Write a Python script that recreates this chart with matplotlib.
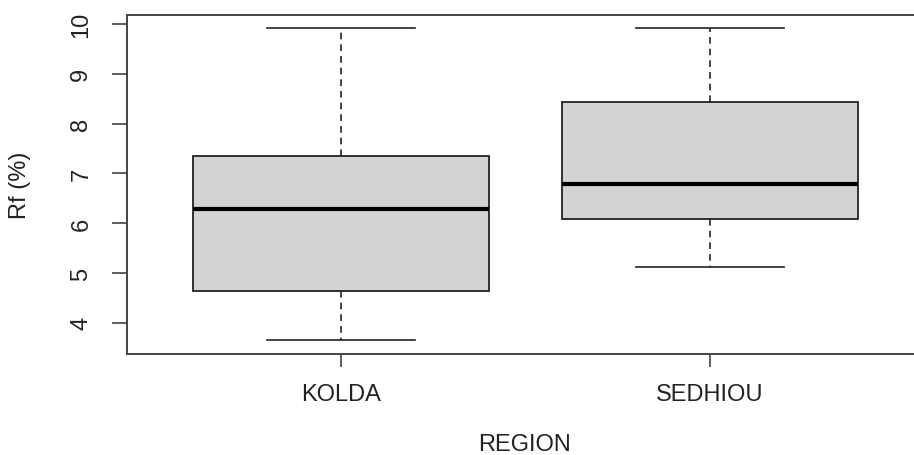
import matplotlib
matplotlib.use("Agg")
import matplotlib.pyplot as plt

plt.rcParams['font.family'] = ['Liberation Sans', 'DejaVu Sans']

categories = ["KOLDA", "SEDHIOU"]
whislo = [3.65, 5.13]
q1 = [4.64, 6.08]
med = [6.29, 6.78]
q3 = [7.34, 8.43]
whishi = [9.91, 9.91]
yticks = [4, 5, 6, 7, 8, 9, 10]

stats = [dict(label=c, whislo=lo, q1=a, med=m, q3=b, whishi=hi, fliers=[])
         for c, lo, a, m, b, hi in zip(categories, whislo, q1, med, q3, whishi)]

fig = plt.figure(figsize=(9.14, 4.56), dpi=100)
ax = fig.add_axes([127/914, 101.3/456, 797/914, 339.2/456])

ax.bxp(stats, positions=[1, 2], widths=0.8, patch_artist=True,
       boxprops=dict(facecolor='#d3d3d3', edgecolor='#222222', linewidth=1.3),
       medianprops=dict(color='black', linewidth=3.0, solid_capstyle='butt'),
       whiskerprops=dict(color='#222222', linewidth=1.2, linestyle=(0, (4, 3))),
       capprops=dict(color='#222222', linewidth=1.2),
       capwidths=0.4, showfliers=False)

ax.set_xlim(0.42, 2.58)
ax.set_ylim(3.38, 10.19)
ax.set_yticks(yticks)
ax.set_yticklabels([str(t) for t in yticks], rotation=90, va='center')
ax.set_xticks([1, 2])
ax.set_xticklabels(categories)

for s in ax.spines.values():
    s.set_color('#444444')
    s.set_linewidth(1.4)

ax.tick_params(axis='y', length=11, width=1.2, color='#444444', pad=14, labelsize=17, labelcolor='#222222')
ax.tick_params(axis='x', length=9, width=1.2, color='#444444', pad=12, labelsize=17, labelcolor='#222222')

fig.text(525/914, 1 - 445/456, "REGION", ha='center', va='center', fontsize=17, color='#222222')
fig.text(20/914, 1 - 185/456, "Rf (%)", ha='center', va='center', rotation=90, fontsize=17, color='#222222')

fig.savefig("out.png", dpi=100)
